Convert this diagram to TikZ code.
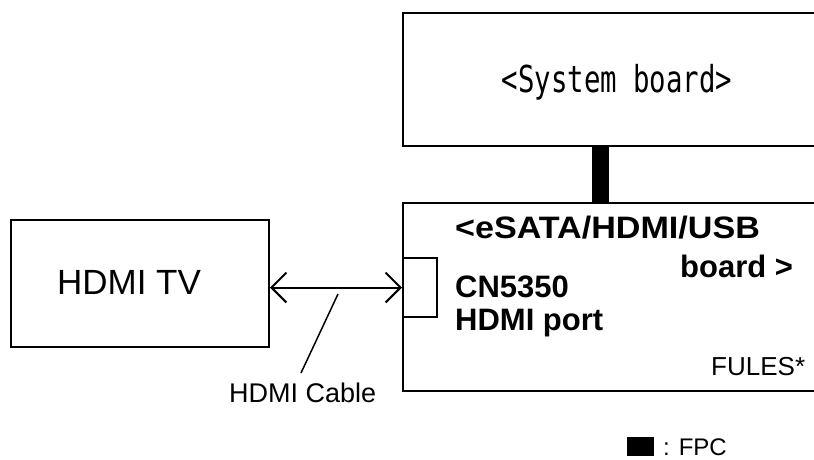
\documentclass[tikz,border=0pt]{standalone}
\usepackage{fontspec}
\setmainfont{Liberation Sans}
\newfontfamily\sysmono{DejaVu Sans Mono}
\usetikzlibrary{arrows.meta}
\begin{document}
\begin{tikzpicture}[x=1pt,y=-1pt,
  box/.style={draw, line width=2pt, inner sep=0pt, anchor=north west},
  txt/.style={inner sep=0pt, anchor=base west},
  boldtxt/.style={txt, font=\bfseries\fontsize{31}{36}\selectfont},
  tip/.style={-{Straight Barb[length=15pt,width=30pt,line width=2pt]}}]
\useasboundingbox (0,0) rectangle (814,459);
% boxes
\node[box, minimum width=440pt, minimum height=133pt] (sys) at (402,12) {};
\node[box, minimum width=440pt, minimum height=188pt] (esata) at (402,202) {};
\node[box, minimum width=34pt, minimum height=59pt] (port) at (402,257) {};
\node[box, minimum width=258pt, minimum height=127pt] (tv) at (10,219) {};
% texts
\node[inner sep=0pt, anchor=base, font=\sysmono\fontsize{36}{40}\selectfont] (systxt) at (617,92) {\scalebox{0.76}[1.03]{<System board>}};
\node[boldtxt] (l1) at (455,238) {\scalebox{1.1}[1]{<eSATA/HDMI/USB}};
\node[boldtxt] (l2) at (680,277) {board >};
\node[boldtxt] (l3) at (455,297) {CN5350};
\node[boldtxt] (l4) at (455,330) {HDMI port};
\node[txt, font=\fontsize{26}{30}\selectfont] (fules) at (711,375) {FULES*};
\node[inner sep=0pt, anchor=base, font=\fontsize{35}{40}\selectfont] (tvtxt) at (129,294) {HDMI TV};
\node[txt, font=\fontsize{27}{30}\selectfont] (cable) at (229,402) {HDMI Cable};
% FPC connector
\draw[line width=17pt] (600,0 |- sys.south) -- (600,0 |- esata.north);
% HDMI cable arrow
\draw[line width=2pt, tip] (337,0 |- port.west) -- (port.west);
\draw[line width=2pt, tip] (337,0 |- port.west) -- (port.west -| tv.east);
% leader
\coordinate (c1) at (338,294);
\coordinate (c2) at (301,373);
\draw[line width=1.5pt] (c1) -- (c2);
% legend
\node[fill, inner sep=0pt, minimum width=27pt, minimum height=19pt, anchor=north west] (fpcmark) at (627,437) {};
\node[txt, font=\fontsize{24}{28}\selectfont] (fpctxt) at (663,455) {: FPC};
\end{tikzpicture}
\end{document}
